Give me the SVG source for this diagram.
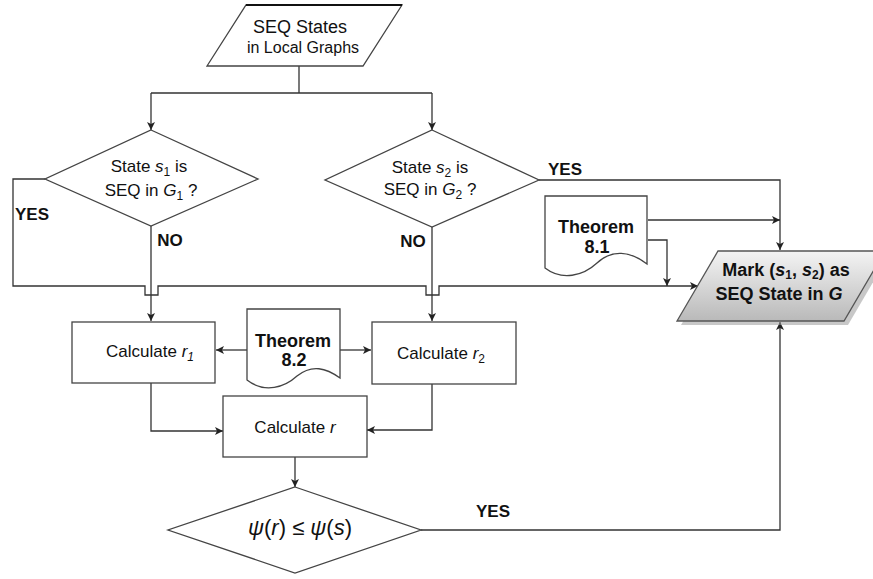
<svg xmlns="http://www.w3.org/2000/svg" width="873" height="579" viewBox="0 0 873 579">
  <defs>
    <marker id="arrow" viewBox="0 0 10 10" refX="10" refY="5" markerWidth="8" markerHeight="8" markerUnits="userSpaceOnUse" orient="auto">
      <path d="M0,0 L10,5 L0,10 L2.5,5 Z" fill="#222"/>
    </marker>
    <linearGradient id="markFill" x1="0" y1="0" x2="0" y2="1">
      <stop offset="0" stop-color="#f4f4f4"/>
      <stop offset="1" stop-color="#b9b9b9"/>
    </linearGradient>
    <style>
      .shape { fill: #fff; stroke: #444; stroke-width: 1.3; }
      .wire { fill: none; stroke: #333; stroke-width: 1.3; }
      .arr { marker-end: url(#arrow); }
      text { font-family: "Liberation Sans", Arial, sans-serif; fill: #111; text-anchor: middle; }
      .t17 { font-size: 17px; }
      .lbl { font-size: 17px; font-weight: bold; }
      .thm { font-size: 18px; font-weight: bold; }
      .sub { font-size: 12px; }
    </style>
  </defs>

  <!-- connectors -->
  <g id="connectors">
    <path class="wire" d="M299,66 V93 M151,93 H432"/>
    <path class="wire arr" d="M151,93 V130"/>
    <path class="wire arr" d="M432,93 V130"/>
    <!-- YES from s1 test, with line hops over the NO branches -->
    <path class="wire arr" d="M45,179 H13 V286 H145 V295 H158 V286 H426 V295 H439 V286 H698"/>
    <path class="wire arr" d="M151,226 V321"/>
    <path class="wire arr" d="M432,227 V321"/>
    <path class="wire arr" d="M539,180 H780 V250"/>
    <path class="wire arr" d="M648,220 H780"/>
    <path class="wire arr" d="M648,240 H667 V286"/>
    <path class="wire arr" d="M247,350 H216"/>
    <path class="wire arr" d="M340,350 H371"/>
    <path class="wire arr" d="M151,383 V431 H223"/>
    <path class="wire arr" d="M432,384 V430 H367"/>
    <path class="wire arr" d="M295,457 V487"/>
    <path class="wire arr" d="M421,530 H780 V322"/>
  </g>

  <!-- input: SEQ states -->
  <g id="input">
    <polygon class="shape" points="246,5 402,5 363,66 207,66"/>
    <line x1="246" y1="5" x2="402" y2="5" stroke="#111" stroke-width="2"/>
    <text x="300" y="33" style="font-size:18px">SEQ States</text>
    <text x="303" y="53" style="font-size:16px">in Local Graphs</text>
  </g>

  <!-- decision: s1 -->
  <g id="test-s1">
    <polygon class="shape" points="151,130 258,179 151,226 45,179"/>
    <text x="149" y="172" class="t17">State <tspan font-style="italic">s</tspan><tspan class="sub" dy="4">1</tspan><tspan dy="-4"> is</tspan></text>
    <text x="151" y="196" class="t17">SEQ in <tspan font-style="italic">G</tspan><tspan class="sub" dy="4">1</tspan><tspan dy="-4"> ?</tspan></text>
  </g>

  <!-- decision: s2 -->
  <g id="test-s2">
    <polygon class="shape" points="432,130 539,180 432,227 325,180"/>
    <text x="430" y="173" class="t17">State <tspan font-style="italic">s</tspan><tspan class="sub" dy="4">2</tspan><tspan dy="-4"> is</tspan></text>
    <text x="430" y="195" class="t17">SEQ in <tspan font-style="italic">G</tspan><tspan class="sub" dy="4">2</tspan><tspan dy="-4"> ?</tspan></text>
  </g>

  <!-- edge labels -->
  <g id="labels">
    <text x="32" y="220" class="lbl">YES</text>
    <text x="170" y="246" class="lbl">NO</text>
    <text x="413" y="247" class="lbl">NO</text>
    <text x="565" y="175" class="lbl">YES</text>
    <text x="493" y="517" class="lbl">YES</text>
  </g>

  <!-- document: Theorem 8.1 -->
  <g id="theorem-81">
    <path class="shape" d="M545,196 H647 V264 C630,251 612,249 597,263 C583,276 562,281 545,268 Z"/>
    <text x="596" y="233" class="thm">Theorem</text>
    <text x="597" y="253" class="thm">8.1</text>
  </g>

  <!-- output: mark pair -->
  <g id="mark">
    <polygon points="681,325 722,255 889,255 848,325" fill="#9a9a9a" opacity="0.55"/>
    <polygon points="718,251 885,251 844,321 677,321" fill="url(#markFill)" stroke="#555" stroke-width="1.3"/>
    <text x="786" y="276" class="thm">Mark (<tspan font-style="italic">s</tspan><tspan class="sub" dy="3">1</tspan><tspan dy="-3">, </tspan><tspan font-style="italic">s</tspan><tspan class="sub" dy="3">2</tspan><tspan dy="-3">) as</tspan></text>
    <text x="779" y="300" class="thm">SEQ State in <tspan font-style="italic">G</tspan></text>
  </g>

  <!-- process: r1 -->
  <g id="calc-r1">
    <rect class="shape" x="72" y="322" width="143" height="61"/>
    <text x="150" y="357" class="t17">Calculate <tspan font-style="italic">r</tspan><tspan class="sub" font-style="italic" dy="4">1</tspan></text>
  </g>

  <!-- document: Theorem 8.2 -->
  <g id="theorem-82">
    <path class="shape" d="M247,309 H340 V378 C326,368 312,364 297,376 C285,387 265,394 247,380 Z"/>
    <text x="293" y="347" class="thm">Theorem</text>
    <text x="294" y="366" class="thm">8.2</text>
  </g>

  <!-- process: r2 -->
  <g id="calc-r2">
    <rect class="shape" x="372" y="322" width="144" height="62"/>
    <text x="441" y="359" class="t17">Calculate <tspan font-style="italic">r</tspan><tspan class="sub" dy="4">2</tspan></text>
  </g>

  <!-- process: r -->
  <g id="calc-r">
    <rect class="shape" x="223" y="396" width="144" height="61"/>
    <text x="295" y="433" class="t17">Calculate <tspan font-style="italic">r</tspan></text>
  </g>

  <!-- decision: psi comparison -->
  <g id="test-psi">
    <polygon class="shape" points="295,487 421,530 295,573 168,530"/>
    <text x="300" y="535" style="font-size:22px"><tspan font-style="italic">ψ</tspan>(<tspan font-style="italic">r</tspan>) ≤ <tspan font-style="italic">ψ</tspan>(<tspan font-style="italic">s</tspan>)</text>
  </g>
</svg>
